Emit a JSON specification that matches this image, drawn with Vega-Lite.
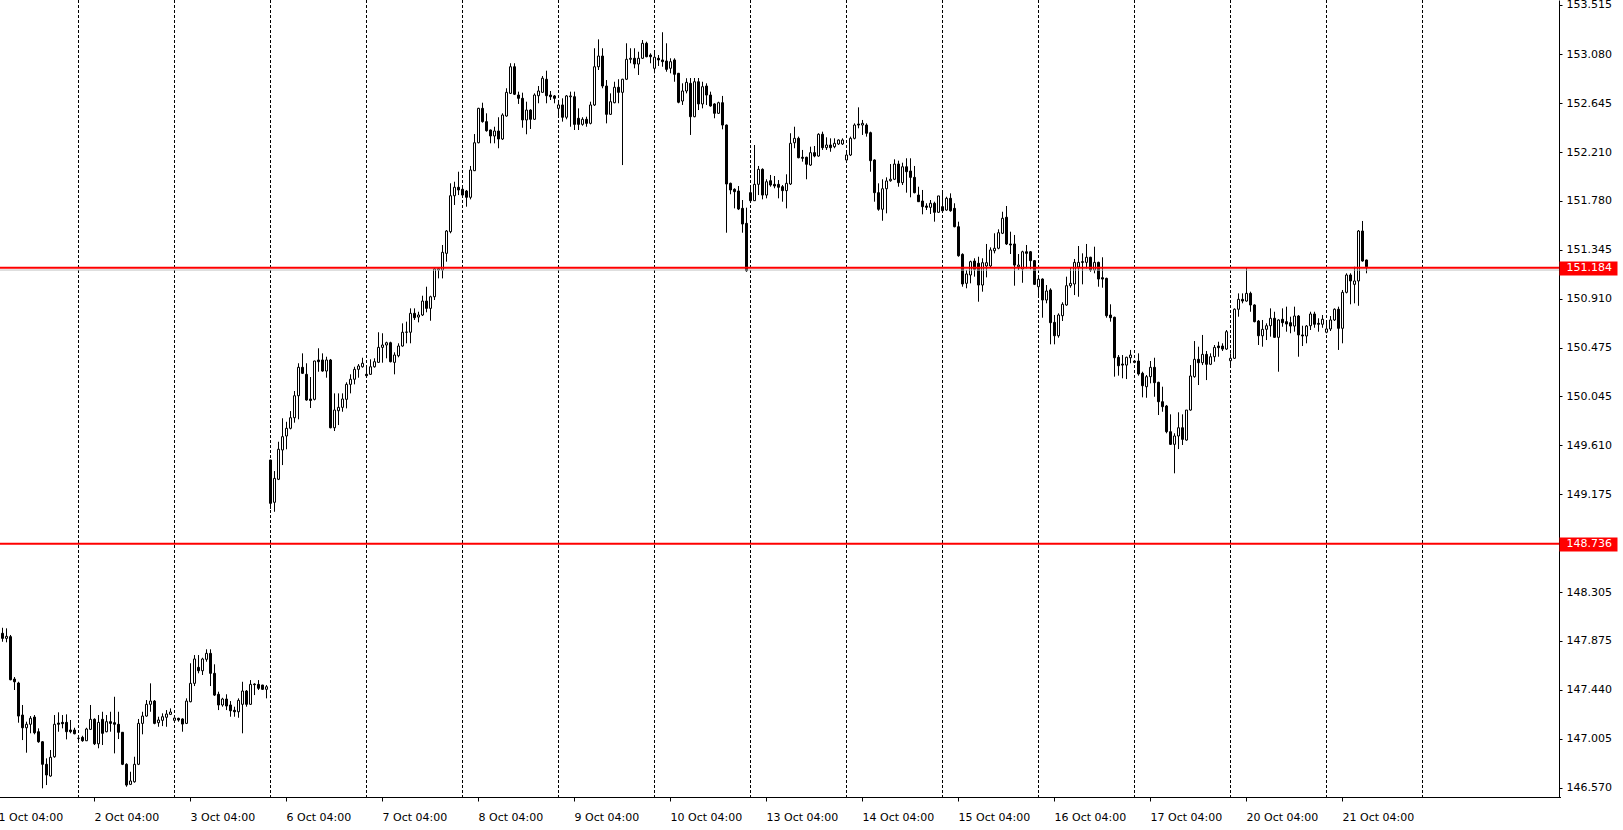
{
"$schema": "https://vega.github.io/schema/vega-lite/v6.json",
"width": 1559, "height": 797,
"autosize": {"type": "none"},
"padding": {"left": 0, "top": 0, "right": 64, "bottom": 33},
"background": "white",
"config": {"view": {"stroke": null}, "font": "DejaVu Sans", "axis": {"labelFont": "DejaVu Sans", "labelFontSize": 11, "labelColor": "black", "tickColor": "black", "domainColor": "black", "grid": false}},
"data": {"values": [
{"t":"2025-10-01T04:00"},
{"t":"2025-10-01T05:00","o":147.942,"h":147.991,"l":147.867,"c":147.897},
{"t":"2025-10-01T06:00","o":147.897,"h":147.986,"l":147.862,"c":147.915},
{"t":"2025-10-01T07:00","o":147.912,"h":147.927,"l":147.525,"c":147.530},
{"t":"2025-10-01T08:00","o":147.536,"h":147.554,"l":147.439,"c":147.512},
{"t":"2025-10-01T09:00","o":147.501,"h":147.512,"l":147.149,"c":147.208},
{"t":"2025-10-01T10:00","o":147.217,"h":147.306,"l":146.995,"c":147.104},
{"t":"2025-10-01T11:00","o":147.104,"h":147.158,"l":146.883,"c":147.135},
{"t":"2025-10-01T12:00","o":147.135,"h":147.208,"l":147.055,"c":147.188},
{"t":"2025-10-01T13:00","o":147.199,"h":147.217,"l":147.046,"c":147.060},
{"t":"2025-10-01T14:00","o":147.069,"h":147.099,"l":146.971,"c":146.980},
{"t":"2025-10-01T15:00","o":146.980,"h":146.985,"l":146.567,"c":146.780},
{"t":"2025-10-01T16:00","o":146.780,"h":146.833,"l":146.596,"c":146.685},
{"t":"2025-10-01T17:00","o":146.676,"h":146.907,"l":146.670,"c":146.842},
{"t":"2025-10-01T18:00","o":146.847,"h":147.217,"l":146.838,"c":147.135},
{"t":"2025-10-01T19:00","o":147.146,"h":147.241,"l":147.069,"c":147.135},
{"t":"2025-10-01T20:00","o":147.152,"h":147.217,"l":147.099,"c":147.140},
{"t":"2025-10-01T21:00","o":147.152,"h":147.223,"l":147.001,"c":147.069},
{"t":"2025-10-01T22:00","o":147.084,"h":147.173,"l":147.055,"c":147.069},
{"t":"2025-10-01T23:00","o":147.084,"h":147.104,"l":147.046,"c":147.051},
{"t":"2025-10-02T00:00","o":147.010,"h":147.025,"l":146.986,"c":147.011},
{"t":"2025-10-02T01:00","o":147.019,"h":147.033,"l":146.980,"c":146.989},
{"t":"2025-10-02T02:00","o":146.989,"h":147.104,"l":146.986,"c":147.093},
{"t":"2025-10-02T03:00","o":147.090,"h":147.306,"l":147.084,"c":147.179},
{"t":"2025-10-02T04:00","o":147.179,"h":147.188,"l":146.951,"c":146.962},
{"t":"2025-10-02T05:00","o":146.962,"h":147.217,"l":146.922,"c":147.152},
{"t":"2025-10-02T06:00","o":147.179,"h":147.246,"l":146.951,"c":147.055},
{"t":"2025-10-02T07:00","o":147.069,"h":147.217,"l":147.064,"c":147.158},
{"t":"2025-10-02T08:00","o":147.158,"h":147.246,"l":147.069,"c":147.143},
{"t":"2025-10-02T09:00","o":147.149,"h":147.379,"l":146.877,"c":147.135},
{"t":"2025-10-02T10:00","o":147.135,"h":147.246,"l":147.004,"c":147.064},
{"t":"2025-10-02T11:00","o":147.064,"h":147.066,"l":146.773,"c":146.780},
{"t":"2025-10-02T12:00","o":146.780,"h":146.789,"l":146.581,"c":146.596},
{"t":"2025-10-02T13:00","o":146.602,"h":146.714,"l":146.596,"c":146.632},
{"t":"2025-10-02T14:00","o":146.625,"h":146.847,"l":146.617,"c":146.780},
{"t":"2025-10-02T15:00","o":146.780,"h":147.182,"l":146.773,"c":147.143},
{"t":"2025-10-02T16:00","o":147.143,"h":147.246,"l":147.046,"c":147.208},
{"t":"2025-10-02T17:00","o":147.208,"h":147.350,"l":147.202,"c":147.312},
{"t":"2025-10-02T18:00","o":147.312,"h":147.498,"l":147.246,"c":147.341},
{"t":"2025-10-02T19:00","o":147.341,"h":147.350,"l":147.135,"c":147.143},
{"t":"2025-10-02T20:00","o":147.149,"h":147.202,"l":147.113,"c":147.173},
{"t":"2025-10-02T21:00","o":147.170,"h":147.232,"l":147.119,"c":147.202},
{"t":"2025-10-02T22:00","o":147.197,"h":147.261,"l":147.113,"c":147.226},
{"t":"2025-10-02T23:00","o":147.223,"h":147.276,"l":147.217,"c":147.244},
{"t":"2025-10-03T00:00","o":147.170,"h":147.208,"l":147.164,"c":147.190},
{"t":"2025-10-03T01:00","o":147.188,"h":147.193,"l":147.158,"c":147.173},
{"t":"2025-10-03T02:00","o":147.182,"h":147.188,"l":147.069,"c":147.137},
{"t":"2025-10-03T03:00","o":147.143,"h":147.365,"l":147.137,"c":147.341},
{"t":"2025-10-03T04:00","o":147.335,"h":147.676,"l":147.330,"c":147.498},
{"t":"2025-10-03T05:00","o":147.498,"h":147.749,"l":147.474,"c":147.714},
{"t":"2025-10-03T06:00","o":147.640,"h":147.749,"l":147.587,"c":147.610},
{"t":"2025-10-03T07:00","o":147.610,"h":147.725,"l":147.572,"c":147.714},
{"t":"2025-10-03T08:00","o":147.711,"h":147.800,"l":147.690,"c":147.764},
{"t":"2025-10-03T09:00","o":147.764,"h":147.800,"l":147.474,"c":147.587},
{"t":"2025-10-03T10:00","o":147.587,"h":147.667,"l":147.386,"c":147.394},
{"t":"2025-10-03T11:00","o":147.401,"h":147.424,"l":147.261,"c":147.306},
{"t":"2025-10-03T12:00","o":147.306,"h":147.370,"l":147.291,"c":147.359},
{"t":"2025-10-03T13:00","o":147.359,"h":147.401,"l":147.261,"c":147.297},
{"t":"2025-10-03T14:00","o":147.306,"h":147.341,"l":147.202,"c":147.255},
{"t":"2025-10-03T15:00","o":147.259,"h":147.291,"l":147.202,"c":147.246},
{"t":"2025-10-03T16:00","o":147.246,"h":147.365,"l":147.193,"c":147.347},
{"t":"2025-10-03T17:00","o":147.312,"h":147.512,"l":147.055,"c":147.430},
{"t":"2025-10-03T18:00","o":147.430,"h":147.439,"l":147.291,"c":147.312},
{"t":"2025-10-03T19:00","o":147.312,"h":147.527,"l":147.306,"c":147.489},
{"t":"2025-10-03T20:00","o":147.492,"h":147.498,"l":147.394,"c":147.486},
{"t":"2025-10-03T21:00","o":147.489,"h":147.527,"l":147.439,"c":147.454},
{"t":"2025-10-03T22:00","o":147.483,"h":147.485,"l":147.439,"c":147.445},
{"t":"2025-10-03T23:00","o":147.445,"h":147.483,"l":147.365,"c":147.468},
{"t":"2025-10-06T00:00","o":149.479,"h":149.480,"l":149.044,"c":149.095},
{"t":"2025-10-06T01:00","o":149.104,"h":149.381,"l":149.020,"c":149.316},
{"t":"2025-10-06T02:00","o":149.308,"h":149.641,"l":149.301,"c":149.574},
{"t":"2025-10-06T03:00","o":149.568,"h":149.849,"l":149.434,"c":149.686},
{"t":"2025-10-06T04:00","o":149.692,"h":149.818,"l":149.574,"c":149.760},
{"t":"2025-10-06T05:00","o":149.760,"h":149.913,"l":149.751,"c":149.854},
{"t":"2025-10-06T06:00","o":149.854,"h":150.091,"l":149.810,"c":150.049},
{"t":"2025-10-06T07:00","o":150.049,"h":150.337,"l":149.840,"c":150.301},
{"t":"2025-10-06T08:00","o":150.301,"h":150.425,"l":150.242,"c":150.248},
{"t":"2025-10-06T09:00","o":150.239,"h":150.337,"l":150.005,"c":150.011},
{"t":"2025-10-06T10:00","o":150.020,"h":150.215,"l":149.940,"c":150.007},
{"t":"2025-10-06T11:00","o":150.017,"h":150.360,"l":150.008,"c":150.357},
{"t":"2025-10-06T12:00","o":150.366,"h":150.470,"l":150.262,"c":150.351},
{"t":"2025-10-06T13:00","o":150.366,"h":150.425,"l":150.262,"c":150.268},
{"t":"2025-10-06T14:00","o":150.268,"h":150.395,"l":150.209,"c":150.366},
{"t":"2025-10-06T15:00","o":150.366,"h":150.375,"l":149.760,"c":149.765},
{"t":"2025-10-06T16:00","o":149.765,"h":150.070,"l":149.736,"c":149.922},
{"t":"2025-10-06T17:00","o":149.916,"h":150.070,"l":149.789,"c":149.946},
{"t":"2025-10-06T18:00","o":149.946,"h":150.070,"l":149.907,"c":150.020},
{"t":"2025-10-06T19:00","o":150.017,"h":150.168,"l":149.937,"c":150.150},
{"t":"2025-10-06T20:00","o":150.150,"h":150.239,"l":150.070,"c":150.195},
{"t":"2025-10-06T21:00","o":150.195,"h":150.306,"l":150.150,"c":150.283},
{"t":"2025-10-06T22:00","o":150.283,"h":150.330,"l":150.209,"c":150.313},
{"t":"2025-10-06T23:00","o":150.306,"h":150.386,"l":150.298,"c":150.337},
{"t":"2025-10-07T00:00","o":150.239,"h":150.306,"l":150.224,"c":150.227},
{"t":"2025-10-07T01:00","o":150.239,"h":150.372,"l":150.233,"c":150.306},
{"t":"2025-10-07T02:00","o":150.306,"h":150.381,"l":150.298,"c":150.351},
{"t":"2025-10-07T03:00","o":150.345,"h":150.612,"l":150.342,"c":150.478},
{"t":"2025-10-07T04:00","o":150.478,"h":150.603,"l":150.342,"c":150.499},
{"t":"2025-10-07T05:00","o":150.499,"h":150.528,"l":150.381,"c":150.519},
{"t":"2025-10-07T06:00","o":150.519,"h":150.528,"l":150.345,"c":150.351},
{"t":"2025-10-07T07:00","o":150.345,"h":150.434,"l":150.239,"c":150.410},
{"t":"2025-10-07T08:00","o":150.404,"h":150.514,"l":150.390,"c":150.490},
{"t":"2025-10-07T09:00","o":150.490,"h":150.691,"l":150.484,"c":150.612},
{"t":"2025-10-07T10:00","o":150.612,"h":150.706,"l":150.514,"c":150.614},
{"t":"2025-10-07T11:00","o":150.612,"h":150.824,"l":150.514,"c":150.780},
{"t":"2025-10-07T12:00","o":150.780,"h":150.824,"l":150.721,"c":150.741},
{"t":"2025-10-07T13:00","o":150.747,"h":150.794,"l":150.700,"c":150.765},
{"t":"2025-10-07T14:00","o":150.765,"h":150.936,"l":150.756,"c":150.889},
{"t":"2025-10-07T15:00","o":150.889,"h":151.016,"l":150.789,"c":150.824},
{"t":"2025-10-07T16:00","o":150.824,"h":150.936,"l":150.714,"c":150.927},
{"t":"2025-10-07T17:00","o":150.927,"h":151.179,"l":150.898,"c":151.173},
{"t":"2025-10-07T18:00","o":151.164,"h":151.179,"l":151.090,"c":151.175},
{"t":"2025-10-07T19:00","o":151.164,"h":151.386,"l":151.090,"c":151.321},
{"t":"2025-10-07T20:00","o":151.312,"h":151.519,"l":151.238,"c":151.510},
{"t":"2025-10-07T21:00","o":151.504,"h":151.933,"l":151.490,"c":151.823},
{"t":"2025-10-07T22:00","o":151.823,"h":151.947,"l":151.741,"c":151.898},
{"t":"2025-10-07T23:00","o":151.898,"h":152.036,"l":151.829,"c":151.874},
{"t":"2025-10-08T00:00","o":151.880,"h":151.903,"l":151.814,"c":151.829},
{"t":"2025-10-08T01:00","o":151.865,"h":151.874,"l":151.726,"c":151.809},
{"t":"2025-10-08T02:00","o":151.809,"h":152.087,"l":151.791,"c":152.051},
{"t":"2025-10-08T03:00","o":152.045,"h":152.370,"l":152.042,"c":152.293},
{"t":"2025-10-08T04:00","o":152.293,"h":152.603,"l":152.288,"c":152.598},
{"t":"2025-10-08T05:00","o":152.598,"h":152.648,"l":152.471,"c":152.480},
{"t":"2025-10-08T06:00","o":152.480,"h":152.554,"l":152.391,"c":152.400},
{"t":"2025-10-08T07:00","o":152.406,"h":152.410,"l":152.288,"c":152.353},
{"t":"2025-10-08T08:00","o":152.353,"h":152.435,"l":152.288,"c":152.397},
{"t":"2025-10-08T09:00","o":152.397,"h":152.519,"l":152.244,"c":152.326},
{"t":"2025-10-08T10:00","o":152.326,"h":152.554,"l":152.317,"c":152.539},
{"t":"2025-10-08T11:00","o":152.530,"h":152.776,"l":152.524,"c":152.740},
{"t":"2025-10-08T12:00","o":152.731,"h":152.998,"l":152.725,"c":152.967},
{"t":"2025-10-08T13:00","o":152.967,"h":152.998,"l":152.716,"c":152.723},
{"t":"2025-10-08T14:00","o":152.716,"h":152.746,"l":152.637,"c":152.687},
{"t":"2025-10-08T15:00","o":152.687,"h":152.737,"l":152.426,"c":152.495},
{"t":"2025-10-08T16:00","o":152.495,"h":152.657,"l":152.368,"c":152.583},
{"t":"2025-10-08T17:00","o":152.583,"h":152.590,"l":152.415,"c":152.501},
{"t":"2025-10-08T18:00","o":152.501,"h":152.731,"l":152.495,"c":152.716},
{"t":"2025-10-08T19:00","o":152.710,"h":152.796,"l":152.643,"c":152.752},
{"t":"2025-10-08T20:00","o":152.740,"h":152.885,"l":152.737,"c":152.865},
{"t":"2025-10-08T21:00","o":152.856,"h":152.932,"l":152.643,"c":152.710},
{"t":"2025-10-08T22:00","o":152.716,"h":152.752,"l":152.672,"c":152.701},
{"t":"2025-10-08T23:00","o":152.708,"h":152.716,"l":152.643,"c":152.687},
{"t":"2025-10-09T00:00","o":152.598,"h":152.666,"l":152.539,"c":152.628},
{"t":"2025-10-09T01:00","o":152.628,"h":152.687,"l":152.480,"c":152.519},
{"t":"2025-10-09T02:00","o":152.519,"h":152.716,"l":152.501,"c":152.708},
{"t":"2025-10-09T03:00","o":152.701,"h":152.746,"l":152.435,"c":152.708},
{"t":"2025-10-09T04:00","o":152.701,"h":152.746,"l":152.406,"c":152.456},
{"t":"2025-10-09T05:00","o":152.510,"h":152.598,"l":152.406,"c":152.456},
{"t":"2025-10-09T06:00","o":152.456,"h":152.519,"l":152.444,"c":152.501},
{"t":"2025-10-09T07:00","o":152.501,"h":152.524,"l":152.435,"c":152.465},
{"t":"2025-10-09T08:00","o":152.465,"h":152.657,"l":152.456,"c":152.628},
{"t":"2025-10-09T09:00","o":152.628,"h":153.131,"l":152.619,"c":152.967},
{"t":"2025-10-09T10:00","o":152.967,"h":153.210,"l":152.938,"c":153.062},
{"t":"2025-10-09T11:00","o":153.062,"h":153.131,"l":152.776,"c":152.796},
{"t":"2025-10-09T12:00","o":152.796,"h":152.849,"l":152.465,"c":152.545},
{"t":"2025-10-09T13:00","o":152.545,"h":152.731,"l":152.539,"c":152.657},
{"t":"2025-10-09T14:00","o":152.648,"h":152.834,"l":152.643,"c":152.785},
{"t":"2025-10-09T15:00","o":152.785,"h":152.856,"l":152.643,"c":152.740},
{"t":"2025-10-09T16:00","o":152.740,"h":152.860,"l":152.095,"c":152.856},
{"t":"2025-10-09T17:00","o":152.856,"h":153.175,"l":152.849,"c":153.033},
{"t":"2025-10-09T18:00","o":153.033,"h":153.131,"l":152.998,"c":153.042},
{"t":"2025-10-09T19:00","o":153.042,"h":153.131,"l":152.953,"c":152.991},
{"t":"2025-10-09T20:00","o":152.991,"h":153.100,"l":152.894,"c":153.042},
{"t":"2025-10-09T21:00","o":153.042,"h":153.204,"l":153.036,"c":153.175},
{"t":"2025-10-09T22:00","o":153.175,"h":153.189,"l":153.051,"c":153.056},
{"t":"2025-10-09T23:00","o":153.071,"h":153.086,"l":152.998,"c":153.056},
{"t":"2025-10-10T00:00","o":152.953,"h":153.100,"l":152.909,"c":153.051},
{"t":"2025-10-10T01:00","o":153.042,"h":153.071,"l":152.974,"c":153.027},
{"t":"2025-10-10T02:00","o":153.027,"h":153.273,"l":152.967,"c":153.012},
{"t":"2025-10-10T03:00","o":153.018,"h":153.175,"l":152.923,"c":152.944},
{"t":"2025-10-10T04:00","o":152.953,"h":153.042,"l":152.909,"c":153.012},
{"t":"2025-10-10T05:00","o":153.027,"h":153.042,"l":152.834,"c":152.900},
{"t":"2025-10-10T06:00","o":152.909,"h":152.912,"l":152.643,"c":152.652},
{"t":"2025-10-10T07:00","o":152.663,"h":152.820,"l":152.628,"c":152.752},
{"t":"2025-10-10T08:00","o":152.752,"h":152.865,"l":152.731,"c":152.829},
{"t":"2025-10-10T09:00","o":152.820,"h":152.867,"l":152.362,"c":152.524},
{"t":"2025-10-10T10:00","o":152.524,"h":152.867,"l":152.519,"c":152.834},
{"t":"2025-10-10T11:00","o":152.834,"h":152.867,"l":152.583,"c":152.637},
{"t":"2025-10-10T12:00","o":152.637,"h":152.834,"l":152.598,"c":152.790},
{"t":"2025-10-10T13:00","o":152.796,"h":152.820,"l":152.628,"c":152.716},
{"t":"2025-10-10T14:00","o":152.716,"h":152.746,"l":152.613,"c":152.619},
{"t":"2025-10-10T15:00","o":152.637,"h":152.643,"l":152.510,"c":152.554},
{"t":"2025-10-10T16:00","o":152.554,"h":152.657,"l":152.548,"c":152.648},
{"t":"2025-10-10T17:00","o":152.648,"h":152.708,"l":152.412,"c":152.450},
{"t":"2025-10-10T18:00","o":152.450,"h":152.455,"l":151.495,"c":151.927},
{"t":"2025-10-10T19:00","o":151.933,"h":151.939,"l":151.836,"c":151.874},
{"t":"2025-10-10T20:00","o":151.880,"h":151.889,"l":151.711,"c":151.859},
{"t":"2025-10-10T21:00","o":151.865,"h":151.909,"l":151.696,"c":151.705},
{"t":"2025-10-10T22:00","o":151.711,"h":151.785,"l":151.495,"c":151.572},
{"t":"2025-10-10T23:00","o":151.578,"h":151.717,"l":151.149,"c":151.158},
{"t":"2025-10-13T00:00","o":151.850,"h":151.918,"l":151.770,"c":151.779},
{"t":"2025-10-13T01:00","o":151.779,"h":152.273,"l":151.776,"c":151.924},
{"t":"2025-10-13T02:00","o":151.924,"h":152.087,"l":151.829,"c":152.057},
{"t":"2025-10-13T03:00","o":152.057,"h":152.066,"l":151.791,"c":151.829},
{"t":"2025-10-13T04:00","o":151.829,"h":151.969,"l":151.800,"c":151.947},
{"t":"2025-10-13T05:00","o":151.956,"h":152.007,"l":151.903,"c":151.918},
{"t":"2025-10-13T06:00","o":151.924,"h":151.998,"l":151.889,"c":151.909},
{"t":"2025-10-13T07:00","o":151.924,"h":151.962,"l":151.800,"c":151.898},
{"t":"2025-10-13T08:00","o":151.903,"h":151.918,"l":151.770,"c":151.868},
{"t":"2025-10-13T09:00","o":151.868,"h":152.013,"l":151.711,"c":151.933},
{"t":"2025-10-13T10:00","o":151.927,"h":152.377,"l":151.918,"c":152.288},
{"t":"2025-10-13T11:00","o":152.293,"h":152.435,"l":152.244,"c":152.332},
{"t":"2025-10-13T12:00","o":152.332,"h":152.347,"l":152.155,"c":152.160},
{"t":"2025-10-13T13:00","o":152.164,"h":152.229,"l":152.125,"c":152.155},
{"t":"2025-10-13T14:00","o":152.164,"h":152.169,"l":151.969,"c":152.102},
{"t":"2025-10-13T15:00","o":152.095,"h":152.258,"l":152.087,"c":152.205},
{"t":"2025-10-13T16:00","o":152.205,"h":152.264,"l":152.164,"c":152.175},
{"t":"2025-10-13T17:00","o":152.175,"h":152.377,"l":152.169,"c":152.368},
{"t":"2025-10-13T18:00","o":152.368,"h":152.391,"l":152.229,"c":152.249},
{"t":"2025-10-13T19:00","o":152.249,"h":152.341,"l":152.229,"c":152.273},
{"t":"2025-10-13T20:00","o":152.273,"h":152.332,"l":152.213,"c":152.249},
{"t":"2025-10-13T21:00","o":152.258,"h":152.332,"l":152.244,"c":152.288},
{"t":"2025-10-13T22:00","o":152.282,"h":152.323,"l":152.273,"c":152.317},
{"t":"2025-10-13T23:00","o":152.282,"h":152.332,"l":152.273,"c":152.317},
{"t":"2025-10-14T00:00","o":152.140,"h":152.205,"l":152.131,"c":152.184},
{"t":"2025-10-14T01:00","o":152.184,"h":152.347,"l":152.175,"c":152.332},
{"t":"2025-10-14T02:00","o":152.332,"h":152.465,"l":152.323,"c":152.450},
{"t":"2025-10-14T03:00","o":152.459,"h":152.607,"l":152.421,"c":152.450},
{"t":"2025-10-14T04:00","o":152.450,"h":152.495,"l":152.362,"c":152.465},
{"t":"2025-10-14T05:00","o":152.450,"h":152.465,"l":152.347,"c":152.377},
{"t":"2025-10-14T06:00","o":152.382,"h":152.391,"l":152.036,"c":152.134},
{"t":"2025-10-14T07:00","o":152.140,"h":152.146,"l":151.770,"c":151.850},
{"t":"2025-10-14T08:00","o":151.850,"h":151.933,"l":151.690,"c":151.703},
{"t":"2025-10-14T09:00","o":151.703,"h":151.969,"l":151.601,"c":151.885},
{"t":"2025-10-14T10:00","o":151.885,"h":151.986,"l":151.667,"c":151.954},
{"t":"2025-10-14T11:00","o":151.956,"h":152.104,"l":151.947,"c":151.969},
{"t":"2025-10-14T12:00","o":151.969,"h":152.146,"l":151.962,"c":152.104},
{"t":"2025-10-14T13:00","o":152.104,"h":152.134,"l":151.903,"c":151.939},
{"t":"2025-10-14T14:00","o":151.939,"h":152.116,"l":151.918,"c":152.080},
{"t":"2025-10-14T15:00","o":152.080,"h":152.155,"l":151.850,"c":152.036},
{"t":"2025-10-14T16:00","o":152.042,"h":152.155,"l":151.809,"c":151.986},
{"t":"2025-10-14T17:00","o":151.986,"h":152.087,"l":151.844,"c":151.850},
{"t":"2025-10-14T18:00","o":151.829,"h":151.903,"l":151.768,"c":151.770},
{"t":"2025-10-14T19:00","o":151.776,"h":151.874,"l":151.658,"c":151.726},
{"t":"2025-10-14T20:00","o":151.732,"h":151.756,"l":151.696,"c":151.720},
{"t":"2025-10-14T21:00","o":151.720,"h":151.785,"l":151.661,"c":151.756},
{"t":"2025-10-14T22:00","o":151.756,"h":151.770,"l":151.593,"c":151.676},
{"t":"2025-10-14T23:00","o":151.676,"h":151.821,"l":151.672,"c":151.821},
{"t":"2025-10-15T00:00","o":151.726,"h":151.859,"l":151.681,"c":151.690},
{"t":"2025-10-15T01:00","o":151.696,"h":151.814,"l":151.690,"c":151.800},
{"t":"2025-10-15T02:00","o":151.800,"h":151.844,"l":151.681,"c":151.690},
{"t":"2025-10-15T03:00","o":151.711,"h":151.756,"l":151.543,"c":151.548},
{"t":"2025-10-15T04:00","o":151.548,"h":151.593,"l":151.282,"c":151.291},
{"t":"2025-10-15T05:00","o":151.303,"h":151.312,"l":151.016,"c":151.040},
{"t":"2025-10-15T06:00","o":151.046,"h":151.164,"l":151.002,"c":151.129},
{"t":"2025-10-15T07:00","o":151.120,"h":151.247,"l":151.046,"c":151.238},
{"t":"2025-10-15T08:00","o":151.244,"h":151.268,"l":151.105,"c":151.170},
{"t":"2025-10-15T09:00","o":151.224,"h":151.282,"l":150.883,"c":151.031},
{"t":"2025-10-15T10:00","o":151.031,"h":151.268,"l":150.972,"c":151.229},
{"t":"2025-10-15T11:00","o":151.200,"h":151.395,"l":151.099,"c":151.229},
{"t":"2025-10-15T12:00","o":151.200,"h":151.365,"l":151.188,"c":151.342},
{"t":"2025-10-15T13:00","o":151.335,"h":151.490,"l":151.312,"c":151.357},
{"t":"2025-10-15T14:00","o":151.357,"h":151.525,"l":151.348,"c":151.495},
{"t":"2025-10-15T15:00","o":151.490,"h":151.681,"l":151.483,"c":151.623},
{"t":"2025-10-15T16:00","o":151.632,"h":151.732,"l":151.386,"c":151.395},
{"t":"2025-10-15T17:00","o":151.395,"h":151.504,"l":151.306,"c":151.386},
{"t":"2025-10-15T18:00","o":151.395,"h":151.475,"l":151.025,"c":151.208},
{"t":"2025-10-15T19:00","o":151.193,"h":151.306,"l":151.164,"c":151.208},
{"t":"2025-10-15T20:00","o":151.173,"h":151.335,"l":151.051,"c":151.326},
{"t":"2025-10-15T21:00","o":151.326,"h":151.386,"l":151.179,"c":151.312},
{"t":"2025-10-15T22:00","o":151.326,"h":151.333,"l":151.170,"c":151.247},
{"t":"2025-10-15T23:00","o":151.247,"h":151.253,"l":151.031,"c":151.037},
{"t":"2025-10-16T00:00","o":151.016,"h":151.105,"l":150.927,"c":151.082},
{"t":"2025-10-16T01:00","o":151.084,"h":151.090,"l":150.741,"c":150.898},
{"t":"2025-10-16T02:00","o":150.898,"h":151.031,"l":150.869,"c":150.978},
{"t":"2025-10-16T03:00","o":150.987,"h":151.002,"l":150.505,"c":150.697},
{"t":"2025-10-16T04:00","o":150.700,"h":150.765,"l":150.505,"c":150.581},
{"t":"2025-10-16T05:00","o":150.581,"h":150.780,"l":150.564,"c":150.765},
{"t":"2025-10-16T06:00","o":150.759,"h":150.878,"l":150.712,"c":150.860},
{"t":"2025-10-16T07:00","o":150.854,"h":151.105,"l":150.847,"c":151.025},
{"t":"2025-10-16T08:00","o":151.025,"h":151.185,"l":151.007,"c":151.046},
{"t":"2025-10-16T09:00","o":151.040,"h":151.262,"l":150.942,"c":151.232},
{"t":"2025-10-16T10:00","o":151.191,"h":151.377,"l":150.927,"c":151.232},
{"t":"2025-10-16T11:00","o":151.238,"h":151.312,"l":151.037,"c":151.232},
{"t":"2025-10-16T12:00","o":151.232,"h":151.395,"l":151.179,"c":151.277},
{"t":"2025-10-16T13:00","o":151.277,"h":151.282,"l":151.149,"c":151.164},
{"t":"2025-10-16T14:00","o":151.164,"h":151.371,"l":151.135,"c":151.232},
{"t":"2025-10-16T15:00","o":151.232,"h":151.238,"l":151.016,"c":151.084},
{"t":"2025-10-16T16:00","o":151.096,"h":151.277,"l":151.007,"c":151.084},
{"t":"2025-10-16T17:00","o":151.090,"h":151.096,"l":150.741,"c":150.759},
{"t":"2025-10-16T18:00","o":150.765,"h":150.860,"l":150.706,"c":150.741},
{"t":"2025-10-16T19:00","o":150.745,"h":150.750,"l":150.218,"c":150.386},
{"t":"2025-10-16T20:00","o":150.390,"h":150.410,"l":150.227,"c":150.315},
{"t":"2025-10-16T21:00","o":150.330,"h":150.410,"l":150.204,"c":150.321},
{"t":"2025-10-16T22:00","o":150.321,"h":150.395,"l":150.197,"c":150.390},
{"t":"2025-10-16T23:00","o":150.386,"h":150.455,"l":150.337,"c":150.410},
{"t":"2025-10-17T00:00","o":150.357,"h":150.366,"l":150.337,"c":150.345},
{"t":"2025-10-17T01:00","o":150.357,"h":150.425,"l":150.227,"c":150.242},
{"t":"2025-10-17T02:00","o":150.248,"h":150.262,"l":150.035,"c":150.138},
{"t":"2025-10-17T03:00","o":150.129,"h":150.233,"l":150.031,"c":150.218},
{"t":"2025-10-17T04:00","o":150.218,"h":150.357,"l":150.159,"c":150.301},
{"t":"2025-10-17T05:00","o":150.301,"h":150.386,"l":150.040,"c":150.165},
{"t":"2025-10-17T06:00","o":150.168,"h":150.173,"l":149.878,"c":149.996},
{"t":"2025-10-17T07:00","o":149.996,"h":150.129,"l":149.907,"c":149.952},
{"t":"2025-10-17T08:00","o":149.958,"h":149.967,"l":149.716,"c":149.730},
{"t":"2025-10-17T09:00","o":149.730,"h":149.884,"l":149.612,"c":149.618},
{"t":"2025-10-17T10:00","o":149.618,"h":149.716,"l":149.361,"c":149.692},
{"t":"2025-10-17T11:00","o":149.692,"h":149.902,"l":149.576,"c":149.765},
{"t":"2025-10-17T12:00","o":149.765,"h":149.884,"l":149.612,"c":149.662},
{"t":"2025-10-17T13:00","o":149.656,"h":149.922,"l":149.650,"c":149.922},
{"t":"2025-10-17T14:00","o":149.922,"h":150.321,"l":149.916,"c":150.224},
{"t":"2025-10-17T15:00","o":150.218,"h":150.534,"l":150.209,"c":150.372},
{"t":"2025-10-17T16:00","o":150.372,"h":150.484,"l":150.144,"c":150.342},
{"t":"2025-10-17T17:00","o":150.342,"h":150.588,"l":150.321,"c":150.416},
{"t":"2025-10-17T18:00","o":150.416,"h":150.446,"l":150.188,"c":150.328},
{"t":"2025-10-17T19:00","o":150.328,"h":150.425,"l":150.321,"c":150.395},
{"t":"2025-10-17T20:00","o":150.395,"h":150.499,"l":150.351,"c":150.478},
{"t":"2025-10-17T21:00","o":150.490,"h":150.528,"l":150.395,"c":150.475},
{"t":"2025-10-17T22:00","o":150.490,"h":150.514,"l":150.446,"c":150.463},
{"t":"2025-10-17T23:00","o":150.463,"h":150.632,"l":150.455,"c":150.617},
{"t":"2025-10-20T00:00","o":150.360,"h":150.425,"l":150.298,"c":150.381},
{"t":"2025-10-20T01:00","o":150.381,"h":150.824,"l":150.375,"c":150.816},
{"t":"2025-10-20T02:00","o":150.816,"h":150.957,"l":150.750,"c":150.904},
{"t":"2025-10-20T03:00","o":150.904,"h":150.957,"l":150.869,"c":150.889},
{"t":"2025-10-20T04:00","o":150.889,"h":151.185,"l":150.883,"c":150.957},
{"t":"2025-10-20T05:00","o":150.957,"h":150.972,"l":150.794,"c":150.854},
{"t":"2025-10-20T06:00","o":150.854,"h":150.860,"l":150.700,"c":150.706},
{"t":"2025-10-20T07:00","o":150.712,"h":150.721,"l":150.499,"c":150.581},
{"t":"2025-10-20T08:00","o":150.581,"h":150.721,"l":150.484,"c":150.638},
{"t":"2025-10-20T09:00","o":150.638,"h":150.691,"l":150.543,"c":150.670},
{"t":"2025-10-20T10:00","o":150.670,"h":150.824,"l":150.573,"c":150.736},
{"t":"2025-10-20T11:00","o":150.736,"h":150.794,"l":150.564,"c":150.567},
{"t":"2025-10-20T12:00","o":150.567,"h":150.727,"l":150.262,"c":150.721},
{"t":"2025-10-20T13:00","o":150.727,"h":150.824,"l":150.661,"c":150.697},
{"t":"2025-10-20T14:00","o":150.706,"h":150.839,"l":150.617,"c":150.685},
{"t":"2025-10-20T15:00","o":150.697,"h":150.750,"l":150.603,"c":150.667},
{"t":"2025-10-20T16:00","o":150.667,"h":150.839,"l":150.617,"c":150.756},
{"t":"2025-10-20T17:00","o":150.756,"h":150.765,"l":150.395,"c":150.588},
{"t":"2025-10-20T18:00","o":150.588,"h":150.670,"l":150.490,"c":150.579},
{"t":"2025-10-20T19:00","o":150.579,"h":150.676,"l":150.514,"c":150.667},
{"t":"2025-10-20T20:00","o":150.670,"h":150.794,"l":150.632,"c":150.774},
{"t":"2025-10-20T21:00","o":150.774,"h":150.794,"l":150.652,"c":150.683},
{"t":"2025-10-20T22:00","o":150.691,"h":150.736,"l":150.617,"c":150.683},
{"t":"2025-10-20T23:00","o":150.683,"h":150.765,"l":150.652,"c":150.727},
{"t":"2025-10-21T00:00","o":150.612,"h":150.706,"l":150.603,"c":150.641},
{"t":"2025-10-21T01:00","o":150.641,"h":150.756,"l":150.623,"c":150.721},
{"t":"2025-10-21T02:00","o":150.721,"h":150.824,"l":150.712,"c":150.816},
{"t":"2025-10-21T03:00","o":150.816,"h":150.839,"l":150.455,"c":150.647},
{"t":"2025-10-21T04:00","o":150.647,"h":150.987,"l":150.514,"c":150.966},
{"t":"2025-10-21T05:00","o":150.966,"h":151.135,"l":150.957,"c":151.120},
{"t":"2025-10-21T06:00","o":151.120,"h":151.135,"l":150.860,"c":151.067},
{"t":"2025-10-21T07:00","o":151.037,"h":151.193,"l":150.869,"c":151.067},
{"t":"2025-10-21T08:00","o":151.067,"h":151.519,"l":150.847,"c":151.510},
{"t":"2025-10-21T09:00","o":151.510,"h":151.599,"l":151.238,"c":151.244},
{"t":"2025-10-21T10:00","o":151.253,"h":151.256,"l":151.135,"c":151.193},
{"t":"2025-10-21T11:00"},{"t":"2025-10-21T12:00"},{"t":"2025-10-21T13:00"},{"t":"2025-10-21T14:00"},
{"t":"2025-10-21T15:00"},{"t":"2025-10-21T16:00"},{"t":"2025-10-21T17:00"},{"t":"2025-10-21T18:00"},
{"t":"2025-10-21T19:00"},{"t":"2025-10-21T20:00"},{"t":"2025-10-21T21:00"},{"t":"2025-10-21T22:00"},
{"t":"2025-10-21T23:00"},{"t":"2025-10-22T00:00"},{"t":"2025-10-22T01:00"},{"t":"2025-10-22T02:00"},
{"t":"2025-10-22T03:00"},{"t":"2025-10-22T04:00"},{"t":"2025-10-22T05:00"},{"t":"2025-10-22T06:00"},
{"t":"2025-10-22T07:00"},{"t":"2025-10-22T08:00"},{"t":"2025-10-22T09:00"},{"t":"2025-10-22T10:00"},
{"t":"2025-10-22T11:00"},{"t":"2025-10-22T12:00"},{"t":"2025-10-22T13:00"},{"t":"2025-10-22T14:00"},
{"t":"2025-10-22T15:00"},{"t":"2025-10-22T16:00"},{"t":"2025-10-22T17:00"},{"t":"2025-10-22T18:00"},
{"t":"2025-10-22T19:00"},{"t":"2025-10-22T20:00"},{"t":"2025-10-22T21:00"},{"t":"2025-10-22T22:00"},
{"t":"2025-10-22T23:00"},{"t":"2025-10-23T00:00"},{"t":"2025-10-23T01:00"},{"t":"2025-10-23T02:00"},
{"t":"2025-10-23T03:00"},{"t":"2025-10-23T04:00"},{"t":"2025-10-23T05:00"},{"t":"2025-10-23T06:00"},
{"t":"2025-10-23T07:00"},{"t":"2025-10-23T08:00"},{"t":"2025-10-23T09:00"},{"t":"2025-10-23T10:00"}
]},
"layer": [
 {"mark": {"type": "rule", "color": "black", "strokeWidth": 1, "strokeDash": [3, 2]},
  "encoding": {
   "x": {"field": "t", "type": "ordinal",
    "scale": {"type": "band", "range": [-3.5, 1560.5], "paddingInner": 0, "paddingOuter": 0},
    "axis": {"values": ["2025-10-01T04:00","2025-10-02T04:00","2025-10-03T04:00","2025-10-06T04:00","2025-10-07T04:00","2025-10-08T04:00","2025-10-09T04:00","2025-10-10T04:00","2025-10-13T04:00","2025-10-14T04:00","2025-10-15T04:00","2025-10-16T04:00","2025-10-17T04:00","2025-10-20T04:00","2025-10-21T04:00"],
     "labelExpr": "timeFormat(toDate(datum.value), '%-d %b %H:%M')",
     "labelAlign": "left", "labelAngle": 0, "labelBaseline": "alphabetic", "labelPadding": 19, "tickSize": 4,
     "labelOverlap": false, "labelFlush": false, "labelBound": false, "title": null, "grid": false, "domainColor": "black"}},
   "strokeOpacity": {"condition": {"test": "substring(datum.t, 11, 16) == '00:00' && datum.t <= '2025-10-22T00:00'", "value": 1}, "value": 0}}},
 {"mark": {"type": "rule", "color": "black", "strokeWidth": 1},
  "encoding": {
   "x": {"field": "t", "type": "ordinal",
    "scale": {"type": "band", "range": [-3.5, 1560.5], "paddingInner": 0, "paddingOuter": 0},
    "axis": {"values": ["2025-10-01T04:00","2025-10-02T04:00","2025-10-03T04:00","2025-10-06T04:00","2025-10-07T04:00","2025-10-08T04:00","2025-10-09T04:00","2025-10-10T04:00","2025-10-13T04:00","2025-10-14T04:00","2025-10-15T04:00","2025-10-16T04:00","2025-10-17T04:00","2025-10-20T04:00","2025-10-21T04:00"],
     "labelExpr": "timeFormat(toDate(datum.value), '%-d %b %H:%M')",
     "labelAlign": "left", "labelAngle": 0, "labelBaseline": "alphabetic", "labelPadding": 19, "tickSize": 4,
     "labelOverlap": false, "labelFlush": false, "labelBound": false, "title": null, "grid": false, "domainColor": "black"}},
   "y": {"field": "l", "type": "quantitative", "scale": {"domain": [146.490, 153.559], "nice": false, "zero": false},
    "axis": {"orient": "right", "values": [153.515,153.080,152.645,152.210,151.780,151.345,150.910,150.475,150.045,149.610,149.175,148.305,147.875,147.440,147.005,146.570],
     "format": ".3f", "tickSize": 3, "labelPadding": 4, "title": null, "grid": false, "labelOverlap": false, "labelFlush": false, "labelBound": false, "domainColor": "black", "tickColor": "black", "labelColor": "black"}},
   "y2": {"field": "h"}}},
 {"mark": {"type": "bar", "width": 2, "stroke": "black", "strokeWidth": 1},
  "encoding": {
   "x": {"field": "t", "type": "ordinal",
    "scale": {"type": "band", "range": [-3.5, 1560.5], "paddingInner": 0, "paddingOuter": 0},
    "axis": {"values": ["2025-10-01T04:00","2025-10-02T04:00","2025-10-03T04:00","2025-10-06T04:00","2025-10-07T04:00","2025-10-08T04:00","2025-10-09T04:00","2025-10-10T04:00","2025-10-13T04:00","2025-10-14T04:00","2025-10-15T04:00","2025-10-16T04:00","2025-10-17T04:00","2025-10-20T04:00","2025-10-21T04:00"],
     "labelExpr": "timeFormat(toDate(datum.value), '%-d %b %H:%M')",
     "labelAlign": "left", "labelAngle": 0, "labelBaseline": "alphabetic", "labelPadding": 19, "tickSize": 4,
     "labelOverlap": false, "labelFlush": false, "labelBound": false, "title": null, "grid": false, "domainColor": "black"}},
   "y": {"field": "o", "type": "quantitative", "scale": {"domain": [146.490, 153.559], "nice": false, "zero": false}, "axis": null},
   "y2": {"field": "c"},
   "fill": {"condition": {"test": "datum.c >= datum.o", "value": "white"}, "value": "black"}}},
 {"data": {"values": [{"price": 151.164, "kind": "bid"}, {"price": 151.184, "kind": "level"}, {"price": 148.736, "kind": "level"}]},
  "mark": {"type": "rule"},
  "encoding": {
   "y": {"field": "price", "type": "quantitative", "scale": {"domain": [146.490, 153.559], "nice": false, "zero": false},
    "axis": {"orient": "right", "values": [151.184, 148.736], "format": ".3f", "tickSize": 58, "tickWidth": 14, "tickColor": "red",
     "labelColor": "white", "labelPadding": -51, "domain": false, "grid": false, "title": null, "labelOverlap": false, "labelFlush": false, "labelBound": false}},
   "color": {"condition": {"test": "datum.kind == 'bid'", "value": "#c0c0c0"}, "value": "red"},
   "strokeWidth": {"condition": {"test": "datum.kind == 'bid'", "value": 1}, "value": 2}}}
],
"resolve": {"axis": {"y": "independent"}}
}
